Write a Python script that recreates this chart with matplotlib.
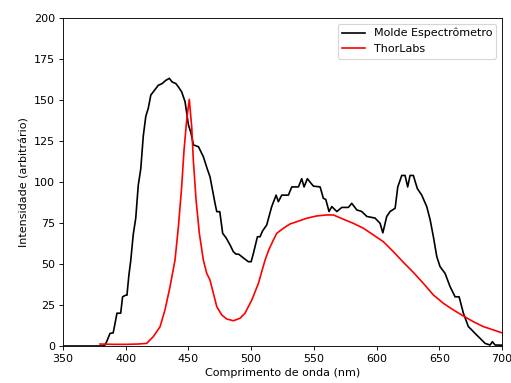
import matplotlib
matplotlib.use("Agg")
import matplotlib.pyplot as plt

molde_nm = [350, 382, 383.5, 385, 387.5, 390, 391.5, 393, 396, 397.5, 400, 401, 402.5, 404, 406, 408, 410, 412, 414, 416, 418, 420,
            423, 426, 429, 432, 434.8, 437, 440, 442, 444.6, 447.3, 450, 452, 454, 458, 461.9, 465, 467.2, 471.2, 472.6,
            475, 477.3, 480, 483.2, 485.8, 488, 490, 492.5, 495, 497.8, 500, 501.8, 505, 507.1, 509, 512.4,
            516.4, 519.9, 521.7, 524.4, 529.7, 532.4, 537.7, 540.3, 542.2, 544.8, 549.6, 555, 557.6, 559.5,
            562.1, 564.3, 568.3, 572.3, 577.5, 580.2, 584.2, 588.2, 592.2, 598.8, 602.8, 605, 608.1, 610.8,
            614.8, 616.9, 620.1, 622.7, 624.8, 626.7, 629.3, 632.5, 636, 640, 642.7, 645.3, 648, 650.6,
            654.6, 658.6, 662.6, 665.8, 669.2, 673.2, 675.9, 678.5, 682.5, 686.5, 690.5, 692.3, 694.5, 700]
molde_val = [0, 0, 0.6, 3, 7.7, 8, 13.8, 20, 20, 30, 31, 31, 43, 52, 68, 78, 98, 108, 128, 140, 145, 153,
             156, 159, 160, 162, 163.2, 161, 160, 158, 155, 149, 134.8, 130, 122.6, 121.5, 115.4, 108, 103.2, 87, 81.9,
             81.9, 68.7, 66, 61.6, 57.5, 56, 56, 54.5, 53, 51.4, 51.4, 56.5, 66.6, 66.6, 70, 73.8,
             85, 92, 88, 92, 92, 97, 97, 102, 97, 102, 97.5, 97, 90, 89.4,
             82, 85, 82, 84.5, 84.5, 87, 83, 82, 79, 78, 74.8, 69, 79, 82,
             84, 97, 104, 104, 97, 104, 104, 96, 92, 85, 77, 66.6, 54.5, 48.4,
             44.3, 36.2, 30, 30, 20, 11.8, 9.8, 7.7, 4.7, 1.6, 0.6, 2.6, 0.6, 0.5]

thor_nm = [379.5, 390, 400, 410, 416.7, 422, 427.4, 431.3, 435.3, 439.3, 442, 444.6, 446.5, 448.6, 450.7,
           452.6, 453.9, 456.1, 458.7, 461.9, 464.6, 467.2, 469.9, 472.6, 476.6, 480.5, 485.8, 491.1, 495.1,
           500.5, 505.8, 511.1, 514, 517.7, 520.4, 525.7, 531, 536.4, 544.3, 552.3, 560.3, 565.6, 573.5,
           581.5, 589.5, 597.5, 605.4, 613.4, 621.4, 629.3, 637.3, 645.3, 653.3, 661.2, 669.2, 677.2,
           685.2, 693.1, 700]
thor_val = [1.2, 1.0, 1.0, 1.2, 1.6, 5.7, 11.8, 22, 36, 52.4, 72.7, 97, 119.5, 137.8, 150.4,
            133.7, 113.4, 89, 68.7, 52.4, 44.3, 40.2, 32.1, 24, 18.9, 16.5, 15.4, 16.9, 20,
            28, 38.2, 52.4, 58.5, 64.6, 68.7, 71.8, 74.4, 75.8, 77.9, 79.3, 79.9, 79.9, 77.3,
            74.8, 71.8, 67.7, 63.6, 57.5, 51, 44.9, 38.2, 31.1, 26, 22, 18.3, 14.8,
            11.8, 9.8, 8]

fig = plt.figure(figsize=(511/80, 383/80), dpi=80)
ax = fig.add_axes([63/511, 1-346/383, (502-63)/511, (346-18)/383])
ax.plot(molde_nm, molde_val, color='black', label='Molde Espectrômetro')
ax.plot(thor_nm, thor_val, color='red', label='ThorLabs')
ax.set_xlim(350, 700)
ax.set_ylim(0, 200)
ax.set_xlabel('Comprimento de onda (nm)')
ax.set_ylabel('Intensidade (arbitrário)')
ax.legend(loc='upper right')
fig.savefig('out.png', dpi=80)
